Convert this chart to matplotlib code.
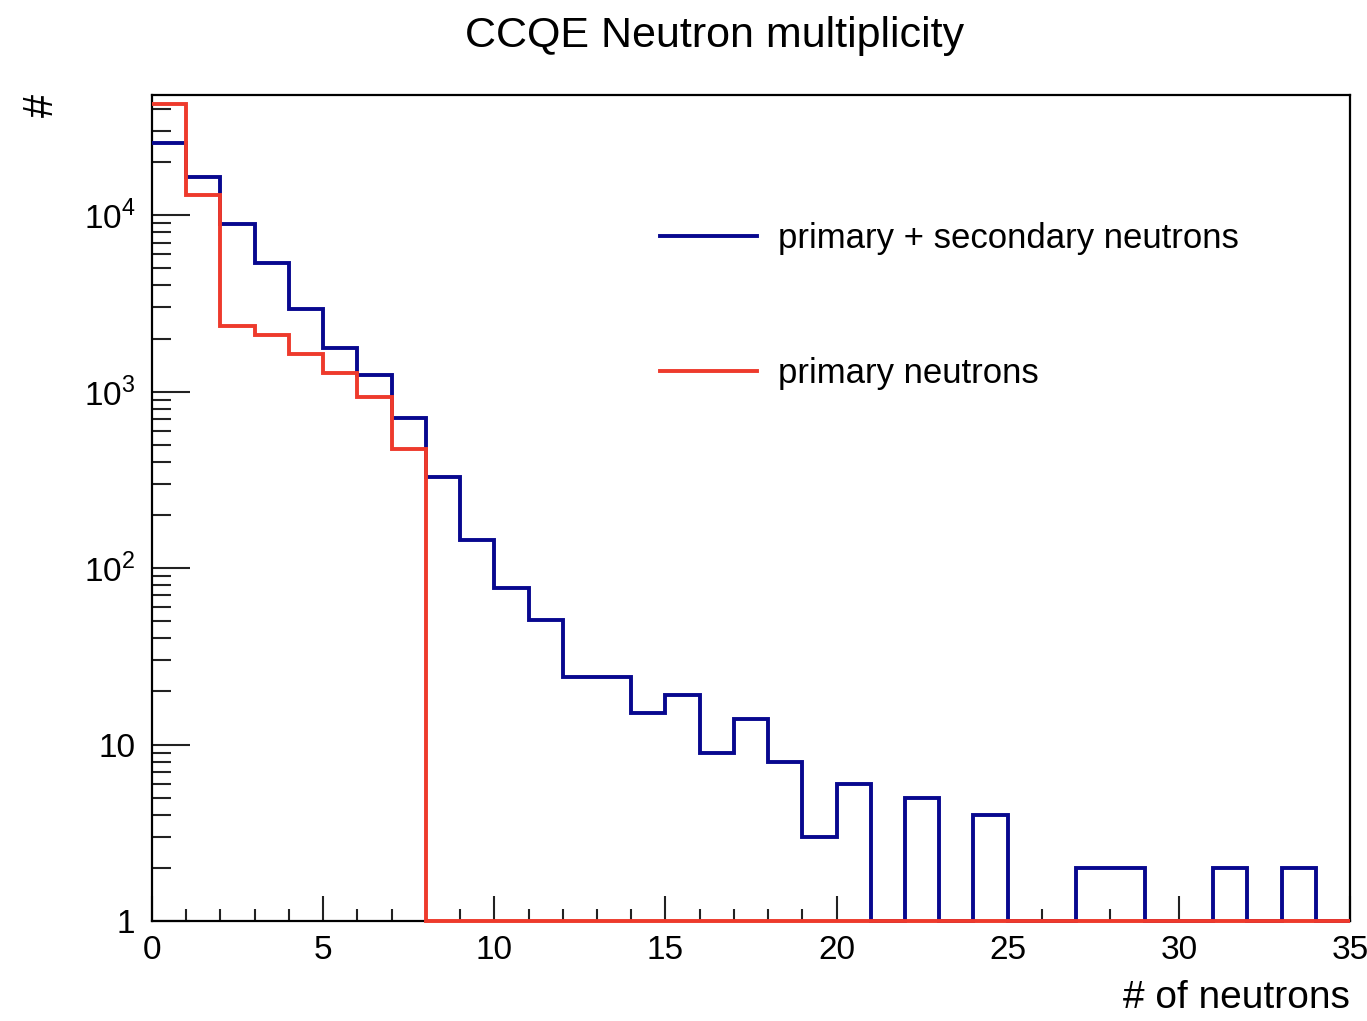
import numpy as np
import matplotlib
matplotlib.use("Agg")
import matplotlib.pyplot as plt
from matplotlib.ticker import FixedLocator, FuncFormatter, LogLocator, MultipleLocator

plt.rcParams['font.family'] = ['Liberation Sans', 'DejaVu Sans']
plt.rcParams['mathtext.fontset'] = 'custom'
plt.rcParams['mathtext.rm'] = 'Liberation Sans'

# neutron multiplicity histogram, one bin per neutron count 0..34
edges = np.arange(0, 36)
all_neutrons = [25600, 16400, 8900, 5340, 2930, 1760, 1250, 713, 330, 144,
                77, 51, 24, 24, 15, 19, 9, 14, 8, 3,
                6, 0, 5, 0, 4, 0, 0, 2, 2, 0,
                0, 2, 0, 2, 0]
primary_neutrons = [42500, 13000, 2370, 2100, 1640, 1280, 935, 476, 0, 0,
                    0, 0, 0, 0, 0, 0, 0, 0, 0, 0,
                    0, 0, 0, 0, 0, 0, 0, 0, 0, 0,
                    0, 0, 0, 0, 0]
labels = ["primary + secondary neutrons", "primary neutrons"]
colors = ["#08088f", "#ee3a2c"]

ymin, ymax = 1, 4.8e4

fig = plt.figure(figsize=(13.67, 10.21), dpi=100)
ax = fig.add_axes([152/1367, 1 - 921/1021, (1350 - 152)/1367, (921 - 95)/1021])

# empty bins sit on the bottom of the frame, like ROOT does on a log axis
for counts, lab, col in zip([all_neutrons, primary_neutrons], labels, colors):
    ax.stairs(np.clip(counts, ymin, None), edges, color=col, lw=2.8,
              label=lab, baseline=None, clip_on=False, zorder=3)

ax.set_yscale('log')
ax.set_xlim(0, 35)
ax.set_ylim(ymin, ymax)

ax.xaxis.set_major_locator(MultipleLocator(5))
ax.xaxis.set_minor_locator(MultipleLocator(1))
ax.yaxis.set_major_locator(FixedLocator([1, 10, 100, 1000, 10000]))
ax.yaxis.set_minor_locator(LogLocator(base=10, subs=np.arange(2, 10)))
ax.yaxis.set_minor_formatter(FuncFormatter(lambda v, p: ""))


def ylab(v, pos):
    if v == 1:
        return "1"
    if v == 10:
        return "10"
    return r"$10^{%d}$" % int(round(np.log10(v)))


ax.yaxis.set_major_formatter(FuncFormatter(ylab))

ax.tick_params(axis='both', which='both', direction='in', top=False, right=False,
               width=1.5, colors='#222222', labelcolor='black', labelsize=24)
ax.tick_params(axis='y', which='major', length=27, pad=12)
ax.tick_params(axis='y', which='minor', length=14)
ax.tick_params(axis='x', which='major', length=18, pad=10)
ax.tick_params(axis='x', which='minor', length=9)
for sp in ax.spines.values():
    sp.set_linewidth(1.6)

fig.text(0.523, 1 - 36/1021, "CCQE Neutron multiplicity", ha='center', va='center',
         fontsize=31)
fig.text(1350/1367, 1 - 998/1021, "# of neutrons", ha='right', va='center',
         fontsize=28)
fig.text(42/1367, 1 - 105/1021, "#", ha='center', va='center', fontsize=30,
         rotation=90)

ax.legend(loc='upper left', bbox_to_anchor=(660/1367, 1 - 222/1021),
          bbox_transform=fig.transFigure, frameon=False, fontsize=25,
          handlelength=2.8, handletextpad=0.6, labelspacing=2.95,
          borderpad=0, borderaxespad=0)

fig.savefig("out.png", dpi=100)
